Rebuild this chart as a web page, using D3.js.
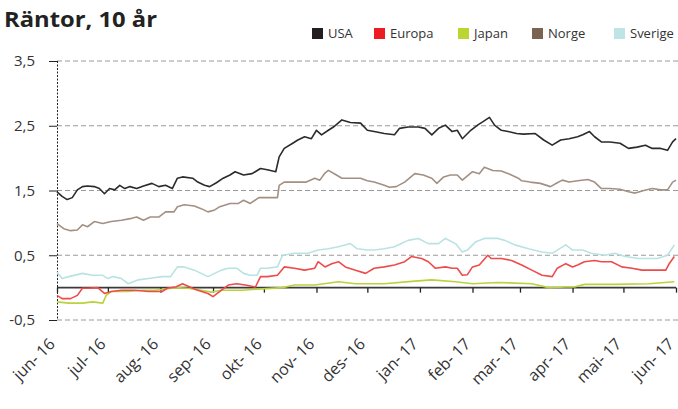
<!DOCTYPE html>
<html><head><meta charset="utf-8">
<script src="https://cdn.jsdelivr.net/npm/d3@7"></script>
<style>
html,body{margin:0;padding:0;background:#fff;}
svg{display:block;font-family:"Open Sans",sans-serif;}
</style></head>
<body><svg id="c" width="678" height="409"></svg>
<script>
const title = "Räntor, 10 år";
const seriesNames = ["USA","Europa","Japan","Norge","Sverige"];
const monthLabels = ["jun- 16","jul- 16","aug- 16","sep- 16","okt- 16","nov- 16","des- 16","jan- 17","feb- 17","mar- 17","apr- 17","mai- 17","jun- 17"];
const yTicks = [-0.5, 0.5, 1.5, 2.5, 3.5];
const yTickLabels = ["-0,5","0,5","1,5","2,5","3,5"];

const usaDates = ["2016-06-01","2016-06-04","2016-06-07","2016-06-10","2016-06-13","2016-06-16","2016-06-19","2016-06-23","2016-06-26","2016-06-29","2016-07-02","2016-07-05","2016-07-08","2016-07-11","2016-07-14","2016-07-18","2016-07-22","2016-07-27","2016-07-31","2016-08-04","2016-08-08","2016-08-11","2016-08-14","2016-08-20","2016-08-23","2016-08-27","2016-08-30","2016-09-03","2016-09-07","2016-09-11","2016-09-14","2016-09-19","2016-09-24","2016-09-29","2016-10-03","2016-10-08","2016-10-10","2016-10-13","2016-10-18","2016-10-21","2016-10-25","2016-10-29","2016-11-01","2016-11-04","2016-11-08","2016-11-11","2016-11-16","2016-11-21","2016-11-27","2016-12-01","2016-12-05","2016-12-11","2016-12-17","2016-12-20","2016-12-25","2016-12-31","2017-01-04","2017-01-08","2017-01-12","2017-01-16","2017-01-20","2017-01-23","2017-01-26","2017-01-31","2017-02-04","2017-02-07","2017-02-11","2017-02-14","2017-02-18","2017-02-22","2017-02-27","2017-03-03","2017-03-10","2017-03-15","2017-03-20","2017-03-25","2017-03-30","2017-04-04","2017-04-07","2017-04-11","2017-04-14","2017-04-18","2017-04-23","2017-04-29","2017-05-04","2017-05-09","2017-05-14","2017-05-18","2017-05-23","2017-05-27","2017-05-30","2017-06-01"];
const usaValues = [1.48,1.41,1.36,1.39,1.51,1.56,1.57,1.56,1.53,1.45,1.53,1.51,1.58,1.53,1.56,1.53,1.57,1.61,1.56,1.58,1.53,1.69,1.71,1.69,1.63,1.58,1.56,1.62,1.69,1.74,1.79,1.74,1.76,1.84,1.82,1.79,2.02,2.15,2.23,2.28,2.33,2.30,2.43,2.36,2.43,2.48,2.59,2.55,2.54,2.43,2.41,2.38,2.36,2.46,2.48,2.48,2.46,2.36,2.46,2.51,2.41,2.43,2.30,2.43,2.51,2.56,2.63,2.51,2.43,2.41,2.38,2.37,2.38,2.28,2.20,2.28,2.30,2.33,2.36,2.41,2.33,2.25,2.25,2.23,2.15,2.17,2.20,2.15,2.15,2.12,2.25,2.30];

const europaDates = ["2016-06-01","2016-06-04","2016-06-09","2016-06-13","2016-06-16","2016-06-19","2016-06-25","2016-06-29","2016-07-03","2016-07-09","2016-07-17","2016-07-25","2016-08-02","2016-08-05","2016-08-10","2016-08-14","2016-08-20","2016-08-23","2016-08-29","2016-09-01","2016-09-06","2016-09-10","2016-09-15","2016-09-20","2016-09-26","2016-09-29","2016-10-03","2016-10-09","2016-10-13","2016-10-19","2016-10-25","2016-10-31","2016-11-02","2016-11-06","2016-11-10","2016-11-14","2016-11-18","2016-11-24","2016-11-30","2016-12-05","2016-12-11","2016-12-17","2016-12-23","2016-12-27","2017-01-02","2017-01-06","2017-01-10","2017-01-16","2017-01-20","2017-01-23","2017-01-26","2017-01-29","2017-02-01","2017-02-05","2017-02-10","2017-02-12","2017-02-18","2017-02-24","2017-03-02","2017-03-08","2017-03-14","2017-03-20","2017-03-23","2017-03-28","2017-04-01","2017-04-04","2017-04-08","2017-04-14","2017-04-18","2017-04-24","2017-04-30","2017-05-06","2017-05-12","2017-05-18","2017-05-26","2017-05-28","2017-05-31"];
const europaValues = [-0.12,-0.17,-0.17,-0.12,-0.01,-0.01,0.0,-0.09,-0.06,-0.04,-0.04,-0.06,-0.06,-0.01,0.01,0.06,-0.01,-0.04,-0.09,-0.14,-0.04,0.04,0.06,0.04,0.01,0.17,0.17,0.19,0.32,0.30,0.27,0.30,0.40,0.32,0.37,0.40,0.32,0.27,0.22,0.30,0.32,0.35,0.40,0.48,0.45,0.40,0.30,0.32,0.30,0.30,0.19,0.20,0.32,0.35,0.50,0.45,0.45,0.42,0.35,0.27,0.19,0.17,0.30,0.37,0.32,0.35,0.40,0.42,0.40,0.40,0.32,0.30,0.27,0.27,0.27,0.37,0.48];

const japanDates = ["2016-06-01","2016-06-08","2016-06-16","2016-06-22","2016-06-28","2016-06-30","2016-07-03","2016-07-13","2016-07-21","2016-07-29","2016-08-04","2016-08-10","2016-08-17","2016-08-25","2016-08-31","2016-09-06","2016-09-18","2016-09-30","2016-10-12","2016-10-19","2016-10-31","2016-11-14","2016-11-24","2016-11-30","2016-12-11","2016-12-29","2017-01-08","2017-01-22","2017-02-01","2017-02-16","2017-03-08","2017-03-18","2017-03-28","2017-04-02","2017-04-08","2017-04-26","2017-05-16","2017-05-31"];
const japanValues = [-0.22,-0.24,-0.24,-0.22,-0.24,-0.12,-0.06,-0.06,-0.04,-0.04,-0.02,0.0,-0.01,-0.04,-0.07,-0.04,-0.04,-0.02,0.0,0.04,0.04,0.09,0.06,0.06,0.06,0.10,0.12,0.09,0.06,0.08,0.06,0.0,0.01,0.01,0.05,0.05,0.06,0.09];

const norgeDates = ["2016-06-01","2016-06-05","2016-06-09","2016-06-13","2016-06-16","2016-06-19","2016-06-23","2016-06-28","2016-07-03","2016-07-09","2016-07-15","2016-07-18","2016-07-22","2016-07-26","2016-07-31","2016-08-04","2016-08-09","2016-08-11","2016-08-15","2016-08-21","2016-08-25","2016-08-29","2016-09-02","2016-09-05","2016-09-11","2016-09-16","2016-09-19","2016-09-23","2016-09-28","2016-10-03","2016-10-09","2016-10-10","2016-10-13","2016-10-20","2016-10-26","2016-10-31","2016-11-03","2016-11-06","2016-11-08","2016-11-12","2016-11-16","2016-11-21","2016-11-27","2016-12-01","2016-12-05","2016-12-11","2016-12-14","2016-12-18","2016-12-23","2016-12-29","2017-01-03","2017-01-08","2017-01-11","2017-01-15","2017-01-19","2017-01-23","2017-01-26","2017-02-01","2017-02-05","2017-02-08","2017-02-13","2017-02-18","2017-02-23","2017-02-28","2017-03-02","2017-03-07","2017-03-13","2017-03-19","2017-03-23","2017-03-26","2017-03-30","2017-04-04","2017-04-10","2017-04-14","2017-04-18","2017-04-23","2017-04-29","2017-05-04","2017-05-08","2017-05-13","2017-05-18","2017-05-23","2017-05-27","2017-05-30","2017-06-01"];
const norgeValues = [0.99,0.91,0.88,0.89,0.97,0.94,1.02,0.99,1.02,1.04,1.07,1.09,1.04,1.09,1.09,1.17,1.17,1.25,1.28,1.26,1.22,1.17,1.20,1.25,1.30,1.30,1.35,1.30,1.39,1.39,1.39,1.58,1.63,1.63,1.63,1.69,1.66,1.77,1.81,1.75,1.69,1.69,1.69,1.65,1.63,1.58,1.55,1.56,1.63,1.76,1.74,1.69,1.61,1.71,1.74,1.74,1.66,1.79,1.76,1.86,1.81,1.80,1.75,1.69,1.65,1.63,1.61,1.56,1.62,1.66,1.63,1.65,1.67,1.63,1.53,1.53,1.52,1.48,1.46,1.50,1.53,1.51,1.51,1.63,1.66];

const sverigeDates = ["2016-06-01","2016-06-04","2016-06-08","2016-06-16","2016-06-22","2016-06-28","2016-07-01","2016-07-04","2016-07-09","2016-07-13","2016-07-19","2016-07-25","2016-08-02","2016-08-07","2016-08-11","2016-08-15","2016-08-21","2016-08-25","2016-08-29","2016-09-02","2016-09-06","2016-09-10","2016-09-15","2016-09-19","2016-09-23","2016-09-27","2016-09-29","2016-10-03","2016-10-09","2016-10-12","2016-10-19","2016-10-27","2016-11-02","2016-11-08","2016-11-14","2016-11-21","2016-11-25","2016-12-01","2016-12-05","2016-12-11","2016-12-17","2016-12-21","2016-12-25","2016-12-31","2017-01-06","2017-01-12","2017-01-16","2017-01-22","2017-01-26","2017-01-29","2017-02-03","2017-02-08","2017-02-16","2017-02-20","2017-02-26","2017-03-06","2017-03-14","2017-03-20","2017-03-23","2017-03-28","2017-04-01","2017-04-07","2017-04-12","2017-04-20","2017-04-26","2017-05-02","2017-05-10","2017-05-16","2017-05-21","2017-05-27","2017-05-31"];
const sverigeValues = [0.24,0.14,0.17,0.22,0.19,0.19,0.14,0.17,0.14,0.06,0.12,0.14,0.17,0.17,0.32,0.32,0.27,0.22,0.17,0.22,0.27,0.30,0.30,0.22,0.19,0.19,0.30,0.30,0.32,0.50,0.53,0.53,0.58,0.60,0.63,0.68,0.60,0.58,0.58,0.60,0.63,0.68,0.73,0.76,0.68,0.68,0.76,0.68,0.55,0.58,0.71,0.76,0.76,0.73,0.66,0.60,0.55,0.53,0.58,0.66,0.58,0.58,0.53,0.50,0.53,0.48,0.45,0.45,0.45,0.50,0.66];

const legendColors = ["#231f20","#ed1c24","#bcd631","#7b6352","#bfe4e5"];
const lineColors = ["#2b2b2b","#ee4b4b","#b9d23e","#a39084","#b9e3e3"];

const parse = d3.timeParse("%Y-%m-%d");
const series = [
  {name:"Sverige", dates:sverigeDates, values:sverigeValues, ci:4},
  {name:"Japan", dates:japanDates, values:japanValues, ci:2},
  {name:"Europa", dates:europaDates, values:europaValues, ci:1},
  {name:"Norge", dates:norgeDates, values:norgeValues, ci:3},
  {name:"USA", dates:usaDates, values:usaValues, ci:0}
];

const svg = d3.select("#c");
const x = d3.scaleTime().domain([parse("2016-06-01"), parse("2017-06-01")]).range([57, 676]);
const y = d3.scaleLinear().domain([-0.5, 3.5]).range([320, 61]);

// title
svg.append("text").attr("x",4).attr("y",27).attr("font-size",21).attr("font-weight",700)
  .attr("fill","#222").attr("textLength",153).attr("lengthAdjust","spacingAndGlyphs").text(title);

// legend
const legX = [312, 374, 458, 532, 614];
const lg = svg.append("g");
seriesNames.forEach((n,i)=>{
  lg.append("rect").attr("x",legX[i]).attr("y",28).attr("width",11).attr("height",11).attr("fill",legendColors[i]);
  lg.append("text").attr("x",legX[i]+16).attr("y",38).attr("font-size",13).attr("fill","#333").text(n);
});

// gridlines
svg.append("g").selectAll("line").data(yTicks).join("line")
  .attr("x1",57).attr("x2",678).attr("y1",d=>y(d)).attr("y2",d=>y(d))
  .attr("stroke","#9a9a9a").attr("stroke-width",1).attr("stroke-dasharray","5,3");

// y axis
const yAxis = d3.axisLeft(y).tickValues(yTicks).tickSize(8).tickPadding(14)
  .tickFormat((d,i)=>yTickLabels[i]);
const ya = svg.append("g").attr("transform","translate(57,0)").call(yAxis);
ya.select(".domain").remove();
ya.selectAll(".tick line").attr("stroke","#222");
ya.selectAll(".tick text").attr("font-family","Open Sans").attr("font-size",15).attr("fill","#333");
svg.append("line").attr("x1",57.5).attr("x2",57.5).attr("y1",y(3.5)).attr("y2",y(-0.5))
  .attr("stroke","#222").attr("stroke-width",1).attr("stroke-dasharray","2,1.5");

// x axis at zero
const monthDates = d3.timeMonth.range(parse("2016-06-01"), parse("2017-06-02"));
const xAxis = d3.axisBottom(x).tickValues(monthDates).tickSize(5).tickFormat(()=>"");
const xa = svg.append("g").attr("transform",`translate(0,${y(0)})`).call(xAxis);
xa.select(".domain").attr("stroke","#3a3a3a").attr("stroke-width",1.8).attr("d",`M57,0H676`);
xa.selectAll(".tick line").attr("stroke","#222").attr("stroke-width",1.3);

// x labels
svg.append("g").selectAll("text").data(monthDates).join("text")
  .attr("transform",d=>`translate(${x(d)-5},${341}) rotate(-45)`)
  .attr("text-anchor","end").attr("font-size",16).attr("fill","#333")
  .attr("dy","0.35em")
  .text((d,i)=>monthLabels[i]);

// lines
const line = d3.line().x(d=>x(d[0])).y(d=>y(d[1]));
svg.append("g").selectAll("path").data(series).join("path")
  .attr("d",s=>line(s.dates.map((dt,i)=>[parse(dt), s.values[i]])))
  .attr("fill","none").attr("stroke",s=>lineColors[s.ci]).attr("stroke-width",1.6)
  .attr("stroke-linejoin","round");
</script></body></html>
